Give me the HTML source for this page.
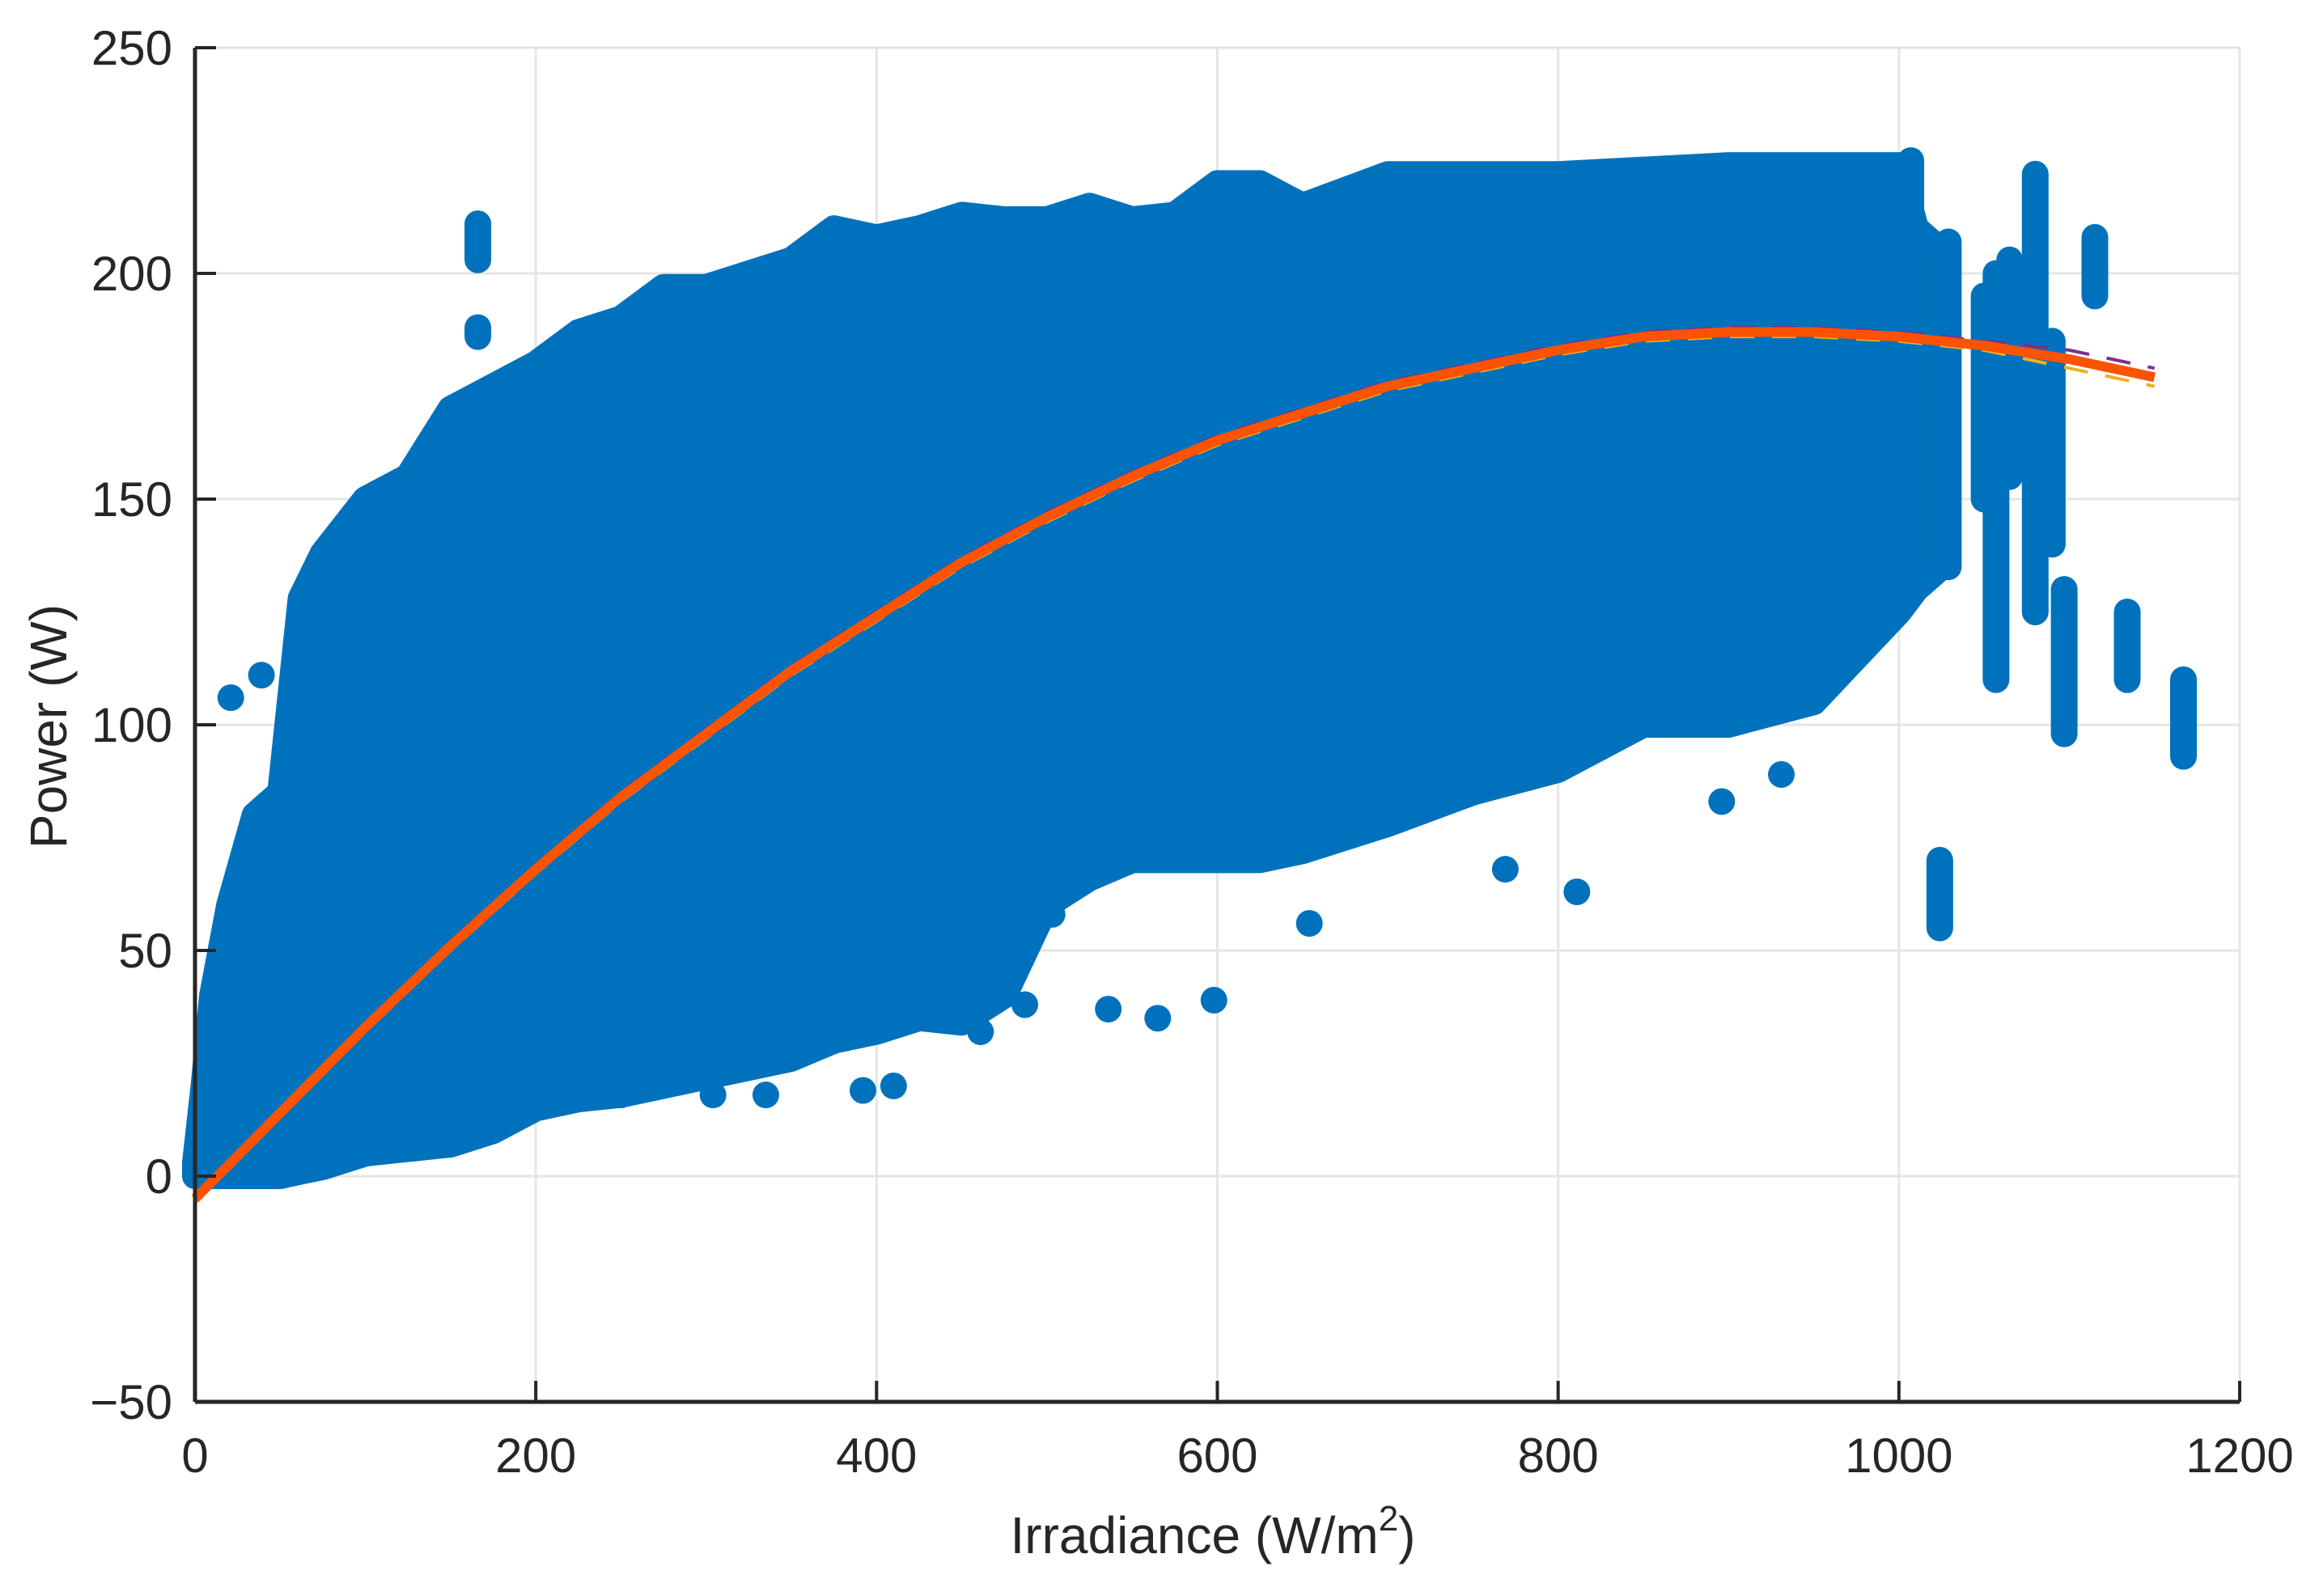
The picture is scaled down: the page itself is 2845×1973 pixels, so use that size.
<!DOCTYPE html>
<html><head><meta charset="utf-8"><style>
html,body{margin:0;padding:0;background:#fff}
svg{display:block}
text{font-family:"Liberation Sans",Arial,sans-serif;fill:#262626}
</style></head><body>
<svg id="chart" width="2845" height="1973" viewBox="0 0 2845 1973" xmlns="http://www.w3.org/2000/svg">
<g id="grid"></g>
<g id="cloud"></g>
<g id="fits"></g>
<g id="axes"></g>
<text x="1499" y="1920" font-size="64" text-anchor="middle">Irradiance (W/m<tspan font-size="44" dy="-28">2</tspan><tspan dy="28">)</tspan></text>
<text transform="translate(82,898) rotate(-90)" font-size="64" text-anchor="middle">Power (W)</text>
</svg>
<script>
const xTicks=[0,200,400,600,800,1000,1200];
const yTicks=[-50,0,50,100,150,200,250];
// dense cloud envelope
const binX=[0,5,10,20,35,50,62,75,100,125,150,175,200,225,250,275,300,325,350,375,400,425,450,475,500,525,550,575,600,625,650,700,750,800,850,900,950,1000,1010,1025];
const binHigh=[3,20,40,60,80,85,128,138,150,155,170,175,180,187,190,197,197,200,203,210,208,210,213,212,212,215,212,213,220,220,215,222,222,222,223,224,224,224,210,205];
const binLow=[0,0,0,0,0,0,1,2,5,6,7,10,15,17,18,20,22,24,26,30,32,35,34,40,60,66,70,70,70,70,72,78,85,90,100,100,105,125,130,135];
// isolated point columns [x, low, high]
const colX=[1024,1057,1080,1097,1090,1115,1134,1167,1029,1007,166,166,21,39,896,931,811,769,654,598,565,536,503,487,461,410,392,335,304,250,1050,1065];
const colLow=[55,110,125,98,140,195,110,93,135,133,203,186,106,111,83,89,63,68,56,39,35,37,58,38,32,20,19,18,18,18,150,155];
const colHigh=[70,200,222,130,185,208,125,110,207,225,211,188,106,111,83,89,63,68,56,39,35,37,58,38,32,20,19,18,18,18,195,203];
// fit curves
const fitX=[0,50,100,150,200,250,300,350,400,450,500,550,600,650,700,750,800,850,900,950,1000,1050,1100,1150];
const fitY=[-5,14,33,51,68,84,98,112,124,136,146,155,163,169,175,179,183,186,187,187,186,184,181,177];
const upperY=[-4,15,34,52,69,85,99,113,125,137,147,156,164,170,176,180,184,187,188,188,187,185,183,179];
const lowerY=[-6,13,32,50,67,83,97,111,123,135,145,154,162,168,174,178,182,185,186,186,185,183,179,175];

const NS="http://www.w3.org/2000/svg";
const L=241,R=2768,T=59,B=1733;
const sx=v=>L+(v-0)*(R-L)/1200;
const sy=v=>B-(v+50)*(B-T)/300;
function mk(tag,attrs,parent){const e=document.createElementNS(NS,tag);for(const k in attrs)e.setAttribute(k,attrs[k]);parent.appendChild(e);return e;}
const grid=document.getElementById('grid'),axes=document.getElementById('axes'),cloud=document.getElementById('cloud'),fits=document.getElementById('fits');
xTicks.forEach((t,i)=>{
 const g=mk('line',{x1:sx(t),x2:sx(t),y1:T,y2:B,stroke:'#e5e5e5','stroke-width':3},grid);
 
 
 const tk=mk('line',{x1:sx(t),x2:sx(t),y1:B,y2:B-26,stroke:'#262626','stroke-width':4},axes);
 
 
 const tx=mk('text',{x:sx(t),y:1820,'font-size':60,'text-anchor':'middle'},axes);
 tx.textContent=t;
 
 
});
yTicks.forEach(t=>{
 const g=mk('line',{x1:L,x2:R,y1:sy(t),y2:sy(t),stroke:'#e5e5e5','stroke-width':3},grid);
 
 
 const tk=mk('line',{x1:L,x2:L+26,y1:sy(t),y2:sy(t),stroke:'#262626','stroke-width':4},axes);
 
 
 const tx=mk('text',{x:213,y:sy(t)+21,'font-size':60,'text-anchor':'end'},axes);
 tx.textContent=(t<0?'\u2212'+(-t):t);
 
 
});
const xa=mk('line',{x1:L,x2:R,y1:B,y2:B,stroke:'#262626','stroke-width':5},axes);


const ya=mk('line',{x1:L,x2:L,y1:T,y2:B,stroke:'#262626','stroke-width':5},axes);


// cloud polygon
let pts=[];
binX.forEach((x,i)=>pts.push(sx(x)+','+sy(binHigh[i])));
for(let i=binX.length-1;i>=0;i--)pts.push(sx(binX[i])+','+sy(binLow[i]));
const poly=mk('polygon',{points:pts.join(' '),fill:'#0072BD',stroke:'#0072BD','stroke-width':32,'stroke-linejoin':'round'},cloud);


colX.forEach((x,i)=>{
 const c=mk('line',{x1:sx(x),x2:sx(x),y1:sy(colLow[i]),y2:sy(colHigh[i]),stroke:'#0072BD','stroke-width':33,'stroke-linecap':'round'},cloud);
 
 
});
function curve(ys,attrs,name){
 const d=fitX.map((x,i)=>(i?'L':'M')+sx(x)+','+sy(ys[i])).join(' ');
 const p=mk('path',Object.assign({d:d,fill:'none','stroke-linejoin':'round'},attrs),fits);
 
 
}
curve(upperY,{stroke:'#7E2F8E','stroke-width':4,'stroke-dasharray':'30 22'},'upper-bound-curve');
curve(lowerY,{stroke:'#EDB120','stroke-width':4,'stroke-dasharray':'30 22'},'lower-bound-curve');
curve(fitY,{stroke:'#FC5300','stroke-width':12},'fit-curve');
</script>
</body></html>
